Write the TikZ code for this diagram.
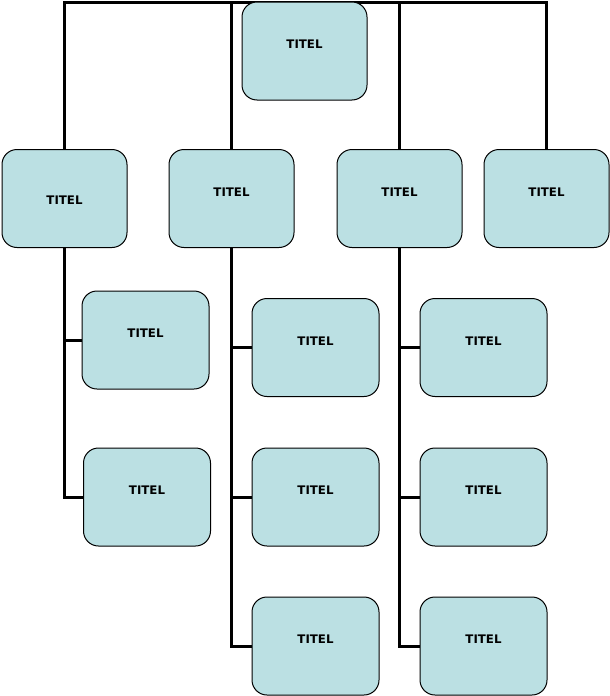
\documentclass[tikz,border=0pt]{standalone}
\usepackage{fontspec}
\setmainfont{DejaVu Sans}
\usepackage{tikz}
\usetikzlibrary{positioning}

\definecolor{boxfill}{HTML}{BBE0E3}

\tikzset{
  box/.style={draw=black, line width=1pt, fill=boxfill, rounded corners=15pt,
    minimum width=125pt, minimum height=98pt, inner sep=0pt,
    label={[txt, yshift=#1]center:TITEL}},
  box/.default=6.5pt,
  txt/.style={font=\fontsize{11.8}{13}\selectfont\bfseries, text=black},
  conn/.style={line width=3pt, draw=black}
}

\begin{document}
\begin{tikzpicture}[x=1pt, y=-1pt]
        \useasboundingbox (0,0) rectangle (610,696);
        % Top bar
        \coordinate (bar) at (63,2.5);
        % Level 2
        \node[box=-1.5pt] (b1) at (64.5,198.5) {};
        \node[box] (b2) at (231.5,198.5) {};
        \node[box] (b3) at (399.5,198.5) {};
        \node[box] (b4) at (546.5,198.5) {};
        % Children
        \node[box, minimum width=127pt] (c11) at (145.5,340) {};
        \node[box, minimum width=127pt] (c12) at (147,497) {};
        \node[box, minimum width=127pt] (c21) at (315.5,347.5) {};
        \node[box, minimum width=127pt] (c22) at (315.5,497) {};
        \node[box, minimum width=127pt] (c23) at (315.5,646) {};
        \node[box, minimum width=127pt] (c31) at (483.5,347.5) {};
        \node[box, minimum width=127pt] (c32) at (483.5,497) {};
        \node[box, minimum width=127pt] (c33) at (483.5,646) {};
        % Connectors
        \draw[conn] (b1.north) -- (b1.north |- bar) -| (b4.north);
        \draw[conn] (b2.north) -- (b2.north |- bar);
        \draw[conn] (b3.north) -- (b3.north |- bar);
        \draw[conn] (b1.south) |- (c12.west);
        \draw[conn] (b1.south |- c11.west) -- (c11.west);
        \draw[conn] (b2.south) |- (c23.west);
        \draw[conn] (b2.south |- c21.west) -- (c21.west);
        \draw[conn] (b2.south |- c22.west) -- (c22.west);
        \draw[conn] (b3.south) |- (c33.west);
        \draw[conn] (b3.south |- c31.west) -- (c31.west);
        \draw[conn] (b3.south |- c32.west) -- (c32.west);
        % Top box
        \node[box] (top) at (304.5,51) {};
\end{tikzpicture}
\end{document}
